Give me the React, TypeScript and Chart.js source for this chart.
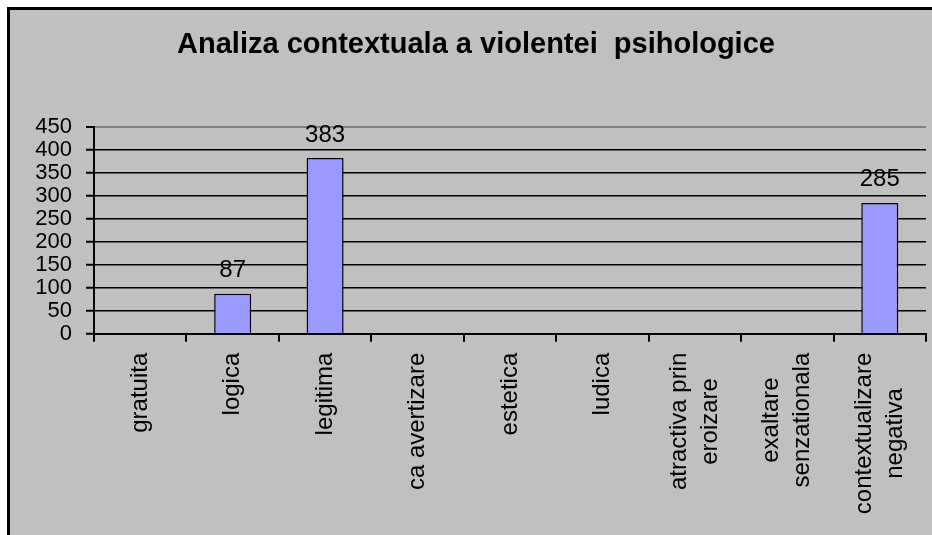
import React, { useEffect, useRef } from 'react';
import { Chart, registerables } from 'chart.js';

Chart.register(...registerables);

const TITLE = 'Analiza contextuala a violentei  psihologice';
const CATEGORIES: string[][] = [
  ['gratuita'],
  ['logica'],
  ['legitima'],
  ['ca avertizare'],
  ['estetica'],
  ['ludica'],
  ['atractiva prin', 'eroizare'],
  ['exaltare', 'senzationala'],
  ['contextualizare', 'negativa'],
];
const VALUES: (number | null)[] = [null, 87, 383, null, null, null, null, null, 285];
const Y_MIN = 0;
const Y_MAX = 450;
const Y_STEP = 50;

const FONT = '"Liberation Sans", Arial, Helvetica, sans-serif';
const GRAY_BG = '#c0c0c0';
const BAR_FILL = '#9999ff';

const xLabelsPlugin = {
  id: 'xLabelsCentered',
  afterDraw(chart: any) {
    const { ctx, chartArea, scales } = chart;
    const xs = scales.x;
    ctx.save();
    ctx.font = `24px ${FONT}`;
    ctx.fillStyle = '#000';
    ctx.textAlign = 'center';
    ctx.textBaseline = 'middle';
    const lineH = 31;
    CATEGORIES.forEach((lines, i) => {
      const px = xs.getPixelForTick(i);
      const widest = Math.max(...lines.map((l) => ctx.measureText(l).width));
      const cy = chartArea.bottom + 19 + widest / 2;
      ctx.save();
      ctx.translate(px, cy);
      ctx.rotate(-Math.PI / 2);
      lines.forEach((line, j) => {
        ctx.fillText(line, 0, (j - (lines.length - 1) / 2) * lineH);
      });
      ctx.restore();
    });
    ctx.restore();
  },
};

const valueLabelsPlugin = {
  id: 'valueLabels',
  afterDatasetsDraw(chart: any) {
    const { ctx } = chart;
    const meta = chart.getDatasetMeta(0);
    ctx.save();
    ctx.font = `24px ${FONT}`;
    ctx.fillStyle = '#000';
    ctx.textAlign = 'center';
    ctx.textBaseline = 'alphabetic';
    meta.data.forEach((el: any, i: number) => {
      const v = VALUES[i];
      if (v == null) return;
      ctx.fillText(String(v), el.x, el.y - 16.5);
    });
    ctx.restore();
  },
};

export default function App() {
  const canvasRef = useRef<HTMLCanvasElement | null>(null);

  useEffect(() => {
    const canvas = canvasRef.current;
    if (!canvas) return;
    const chart = new Chart(canvas, {
      type: 'bar',
      data: {
        labels: CATEGORIES.map((l) => l.join(' ')),
        datasets: [
          {
            data: VALUES,
            backgroundColor: BAR_FILL,
            borderColor: '#000',
            borderWidth: 1.5,
            barPercentage: 0.4,
            categoryPercentage: 1,
          },
        ],
      },
      options: {
        animation: false,
        responsive: false,
        devicePixelRatio: 1,
        layout: { padding: { left: 16, right: 6, top: 0, bottom: 0 } },
        plugins: {
          legend: { display: false },
          tooltip: { enabled: false },
          title: {
            display: true,
            text: TITLE,
            color: '#000',
            font: { family: FONT, size: 29, weight: 'bold' },
            padding: { top: 18, bottom: 64.5 },
          },
        },
        scales: {
          x: {
            offset: true,
            ticks: { display: false },
            grid: {
              offset: true,
              drawOnChartArea: true,
              color: (c: any) => (c.index === CATEGORIES.length ? '#808080' : 'rgba(0,0,0,0)'),
              lineWidth: 2,
              drawTicks: true,
              tickLength: 8,
              tickColor: '#000',
              tickWidth: 2,
            },
            border: { display: true, color: '#000', width: 2 },
            afterFit: (scale: any) => {
              scale.height = 201.3;
            },
          },
          y: {
            min: Y_MIN,
            max: Y_MAX,
            ticks: {
              stepSize: Y_STEP,
              autoSkip: false,
              color: '#000',
              padding: 14,
              font: { family: FONT, size: 22, lineHeight: 1 },
            },
            grid: {
              color: (c: any) => (c.tick && c.tick.value === Y_MAX ? '#808080' : '#000'),
              lineWidth: (c: any) => (c.tick && c.tick.value === Y_MAX ? 2 : 1.5),
              drawTicks: true,
              tickLength: 8,
              tickColor: '#000',
              tickWidth: 2,
            },
            border: { display: true, color: '#000', width: 2 },
            afterFit: (scale: any) => {
              scale.width = 68;
            },
          },
        },
      },
      plugins: [xLabelsPlugin, valueLabelsPlugin],
    } as any);
    return () => chart.destroy();
  }, []);

  return (
    <div
      style={{
        position: 'absolute',
        left: 0,
        top: 0,
        width: 932,
        height: 535,
        background: '#fff',
        overflow: 'hidden',
      }}
    >
      <div
        style={{
          position: 'absolute',
          left: 7,
          top: 7,
          width: 960,
          height: 560,
          borderLeft: '3px solid #000',
          borderTop: '3px solid #000',
          background: GRAY_BG,
        }}
      >
        <canvas
          ref={canvasRef}
          width={922}
          height={525}
          style={{ position: 'absolute', left: 0, top: 0, width: 922, height: 525 }}
        />
      </div>
    </div>
  );
}
